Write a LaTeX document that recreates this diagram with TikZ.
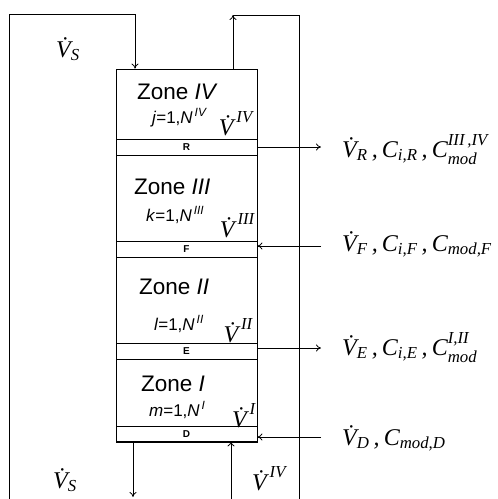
\documentclass[tikz,border=0pt]{standalone}
\usepackage{fontspec}
\usepackage{amsmath}
\setmainfont{Liberation Sans}
\newfontfamily\tms{Liberation Serif}
\usetikzlibrary{arrows.meta}
\newcommand\Vd{V^^^^0307}
\newcommand\ti[1]{\text{\tms\itshape #1}}
\newcommand\cm{\,\ti{,}\,}
\tikzset{
  ln/.style={line width=0.8pt},
  arr/.style={ln,-{To[length=5pt,width=7pt]}},
  band/.style={draw,ln,minimum width=141pt,minimum height=16pt,inner sep=0pt,font=\fontsize{10}{12}\selectfont\bfseries},
  zone/.style={anchor=base west,inner sep=0pt,font=\fontsize{22.5}{26}\selectfont},
  idx/.style={anchor=base west,inner sep=0pt,font=\fontsize{17}{20}\selectfont},
  vlab/.style={anchor=base east,inner sep=0pt,font=\fontsize{24}{28}\selectfont},
  flab/.style={anchor=base west,inner sep=0pt,font=\fontsize{24}{28}\selectfont},
}
\begin{document}
\begin{tikzpicture}[x=1pt,y=-1pt]
\useasboundingbox (0,0) rectangle (498,499);
% column
\node[draw,ln,minimum width=141pt,minimum height=372pt,inner sep=0pt] (col) at (186.5,255) {};
\node[band] (R) at (186.5,147.5) {R};
\node[band] (F) at (186.5,249.5) {F};
\node[band] (E) at (186.5,351) {E};
\node[band] (D) at (186.5,434.5) {D};
% zone texts
\node[zone] (z4) at (137,99) {Zone \textit{IV}};
\node[zone] (z3) at (134,194) {Zone \textit{III}};
\node[zone] (z2) at (139,294) {Zone \textit{II}};
\node[zone] (z1) at (141,391) {Zone \textit{I}};
\node[idx] (i4) at (152,123) {\textit{j}=1,\textit{N}\textsuperscript{\,\textit{IV}}};
\node[idx] (i3) at (146,221) {\textit{k}=1,\textit{N}\textsuperscript{\,\textit{III}}};
\node[idx] (i2) at (154,330) {\textit{l}=1,\textit{N}\textsuperscript{\,\textit{II}}};
\node[idx] (i1) at (149,416) {\textit{m}=1,\textit{N}\textsuperscript{\,\textit{I}}};
\node[vlab] (v4) at (253,135) {$\ti{\Vd}^{\,\ti{IV}}$};
\node[vlab] (v3) at (255,237) {$\ti{\Vd}^{\,\ti{III}}$};
\node[vlab] (v2) at (253,342) {$\ti{\Vd}^{\,\ti{II}}$};
\node[vlab] (v1) at (256,427) {$\ti{\Vd}^{\,\ti{I}}$};
% outer loops
\coordinate (lb) at (9,499);
\coordinate (tl) at (135,14);
\coordinate (tr) at (233,15);
\coordinate (rb) at (299,499);
\coordinate (bl) at (133,497);
\coordinate (br) at (231,499);
\draw[arr] (lb) |- (tl) -- (tl |- col.north);
\draw[arr] (tr |- col.north) -- (tr);
\draw[ln] (tr) -| (rb);
\draw[arr] (bl |- col.south) -- (bl);
\draw[arr] (br) -- (br |- col.south);
% side streams
\coordinate (oR) at (321,147);
\coordinate (oF) at (321,246);
\coordinate (oE) at (321,348);
\coordinate (oD) at (321,437);
\draw[arr] (R.east |- oR) -- (oR);
\draw[arr] (oF) -- (F.east |- oF);
\draw[arr] (E.east |- oE) -- (oE);
\draw[arr] (oD) -- (D.east |- oD);
% labels
\node[flab] (lR) at (342,157) {$\ti{\Vd}_{\ti{R}}\cm\ti{C}_{\ti{i,R}}\cm\ti{C}^{\ti{III\,,IV}}_{\ti{mod}}$};
\node[flab] (lF) at (342,251) {$\ti{\Vd}_{\ti{F}}\cm\ti{C}_{\ti{i,F}}\cm\ti{C}_{\ti{mod,F}}$};
\node[flab] (lE) at (342,355) {$\ti{\Vd}_{\ti{E}}\cm\ti{C}_{\ti{i,E}}\cm\ti{C}^{\ti{I,II}}_{\ti{mod}}$};
\node[flab] (lD) at (342,445) {$\ti{\Vd}_{\ti{D}}\cm\ti{C}_{\ti{mod,D}}$};
\node[flab] (s1) at (56,57) {$\ti{\Vd}_{\ti{S}}$};
\node[flab] (s2) at (53,488) {$\ti{\Vd}_{\ti{S}}$};
\node[flab] (s3) at (252,490) {$\ti{\Vd}^{\,\ti{IV}}$};
\end{tikzpicture}
\end{document}
